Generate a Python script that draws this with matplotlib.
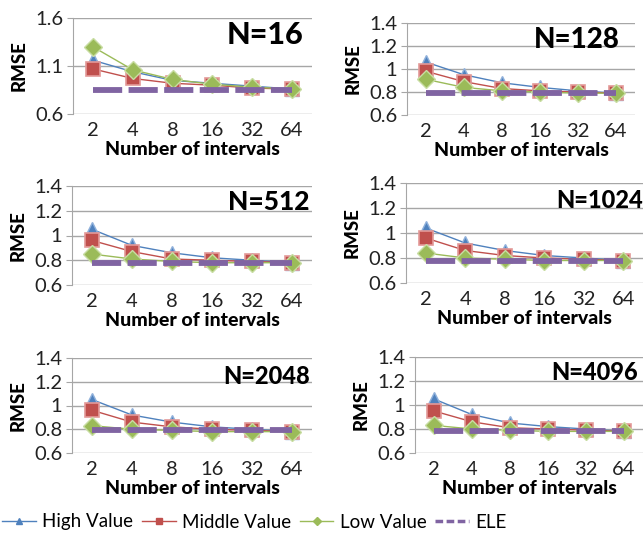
import matplotlib
matplotlib.use("Agg")
import matplotlib.pyplot as plt
from matplotlib.lines import Line2D

W, H = 643, 543
intervals = ["2", "4", "8", "16", "32", "64"]
titles = ["N=16", "N=128", "N=512", "N=1024", "N=2048", "N=4096"]

high = [
    [1.16, 1.04, 0.95, 0.92, 0.89, 0.86],
    [1.06, 0.95, 0.88, 0.84, 0.81, 0.79],
    [1.05, 0.92, 0.86, 0.82, 0.80, 0.78],
    [1.04, 0.92, 0.86, 0.82, 0.80, 0.78],
    [1.05, 0.92, 0.86, 0.82, 0.80, 0.78],
    [1.05, 0.92, 0.85, 0.82, 0.80, 0.78],
]
middle = [
    [1.07, 0.97, 0.92, 0.90, 0.87, 0.86],
    [0.98, 0.89, 0.83, 0.81, 0.80, 0.79],
    [0.96, 0.87, 0.81, 0.80, 0.79, 0.78],
    [0.96, 0.86, 0.82, 0.80, 0.79, 0.78],
    [0.96, 0.86, 0.82, 0.80, 0.79, 0.78],
    [0.95, 0.86, 0.81, 0.80, 0.79, 0.78],
]
low = [
    [1.30, 1.06, 0.96, 0.91, 0.88, 0.86],
    [0.91, 0.84, 0.81, 0.80, 0.79, 0.79],
    [0.85, 0.81, 0.79, 0.78, 0.78, 0.78],
    [0.84, 0.80, 0.79, 0.78, 0.78, 0.78],
    [0.83, 0.80, 0.79, 0.78, 0.78, 0.78],
    [0.83, 0.80, 0.79, 0.78, 0.78, 0.78],
]
ele = [0.85, 0.79, 0.78, 0.78, 0.79, 0.78]

ylims = [(0.6, 1.6), (0.6, 1.4), (0.6, 1.4), (0.6, 1.4), (0.6, 1.4), (0.6, 1.4)]
yticks = [[0.6, 1.1, 1.6], [0.6, 0.8, 1.0, 1.2, 1.4], [0.6, 0.8, 1.0, 1.2, 1.4],
          [0.6, 0.8, 1.0, 1.2, 1.4], [0.6, 0.8, 1.0, 1.2, 1.4], [0.6, 0.8, 1.0, 1.2, 1.4]]

# axes rectangles in pixels: left, right, top, bottom
rects = [(73, 312, 18, 114), (407, 635, 23, 115),
         (72, 312, 186, 285), (406, 643, 183, 283),
         (72, 312, 358, 453), (415, 643, 357, 453)]
title_pos = [(303, 35, 22), (620, 40, 20), (310, 202, 19),
             (643, 200, 17), (310, 377, 17), (638, 373, 17)]

plt.rcParams['font.family'] = ['Lato', 'DejaVu Sans']

BLUE = '#4F81BD'
RED = '#C0504D'
GREEN = '#9BBB59'
PURPLE = '#8064A2'

fig = plt.figure(figsize=(W / 100, H / 100), dpi=100)


def fmt(v):
    s = f"{v:.1f}"
    return "1" if s == "1.0" else s


x = list(range(len(intervals)))
for i in range(6):
    l, r, t, b = rects[i]
    ax = fig.add_axes([l / W, 1 - b / H, (r - l) / W, (b - t) / H])
    ax.plot(x, high[i], color=BLUE, lw=1, marker='^', ms=9.5,
            markerfacecolor=BLUE, markeredgecolor='#8FB0DA', mew=1, zorder=3)
    ax.plot(x, middle[i], color=RED, lw=1, marker='s', ms=10.5,
            markerfacecolor=RED, markeredgecolor='#E39A98', mew=1.2, zorder=4)
    ax.plot(x, low[i], color=GREEN, lw=1, marker='D', ms=9,
            markerfacecolor=GREEN, markeredgecolor='#C8DDA3', mew=1, zorder=5)
    ax.plot(x, [ele[i]] * len(x), color=PURPLE, lw=4.2, ls=(0, (5, 1.1)),
            zorder=6, solid_capstyle='butt')
    ax.set_xlim(-0.5, 5.5)
    ax.set_ylim(*ylims[i])
    ax.set_yticks(yticks[i])
    ax.set_yticklabels([fmt(v) for v in yticks[i]])
    ax.set_xticks(x)
    ax.set_xticklabels(intervals)
    ax.yaxis.grid(True, color='#A6A6A6', lw=1)
    ax.set_axisbelow(True)
    for s in ['top', 'right', 'bottom']:
        ax.spines[s].set_visible(False)
    ax.spines['left'].set_color('#A6A6A6')
    ax.tick_params(axis='y', length=4, color='#A6A6A6', labelsize=14.5, pad=3,
                   labelcolor='#222222')
    ax.tick_params(axis='x', length=0, labelsize=14.5, pad=6, labelcolor='#222222')
    ax.set_ylabel("RMSE", fontsize=13.5, fontweight='black', labelpad=5)
    ax.set_xlabel("Number of intervals", fontsize=14, fontweight='black', labelpad=1)
    tx, ty, fs = title_pos[i]
    fig.text(tx / W, 1 - ty / H, titles[i], ha='right', va='center',
             fontsize=fs, fontweight='black')

handles = [
    Line2D([], [], color=BLUE, lw=1, marker='^', ms=5, markerfacecolor=BLUE, markeredgecolor=BLUE),
    Line2D([], [], color=RED, lw=1, marker='s', ms=5, markerfacecolor=RED, markeredgecolor=RED),
    Line2D([], [], color=GREEN, lw=1, marker='D', ms=4, markerfacecolor=GREEN, markeredgecolor=GREEN),
    Line2D([], [], color=PURPLE, lw=2.5, ls=(0, (2.2, 1))),
]
fig.legend(handles, ["High Value", "Middle Value", "Low Value", "ELE"],
           loc='center left', bbox_to_anchor=(2 / W, 1 - 522 / H), ncol=4,
           frameon=False, fontsize=13.5, handlelength=1.8, handletextpad=0.35,
           columnspacing=0.45, borderaxespad=0, borderpad=0)

fig.savefig("out.png", dpi=100)
